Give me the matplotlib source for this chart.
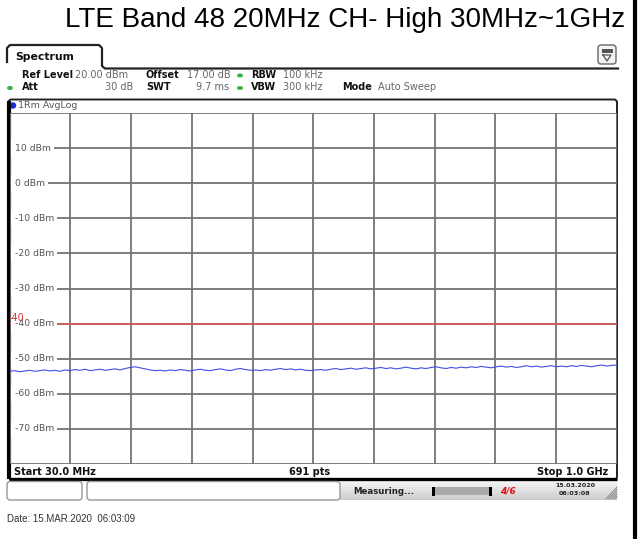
import numpy as np
import matplotlib
matplotlib.use("Agg")
import matplotlib.pyplot as plt
from matplotlib.patches import FancyBboxPatch, Rectangle, Circle, Ellipse
from matplotlib.transforms import blended_transform_factory

# ---------------- data ----------------
title = "LTE Band 48 20MHz CH- High 30MHz~1GHz"
f_start_mhz = 30.0
f_stop_mhz = 1000.0
y_top_dbm = 20
y_bottom_dbm = -80
y_label_levels = [10, 0, -10, -20, -30, -40, -50, -60, -70]
limit_dbm = -40
trace_dbm = [
    -53.6, -53.4, -53.7, -53.5, -53.3, -53.6, -53.4, -53.2, -53.5, -53.3,
    -53.6, -53.2, -53.4, -53.1, -53.3, -53.0, -53.4, -53.2, -53.0, -53.3,
    -53.1, -52.9, -53.2, -52.8, -52.5, -52.3, -52.6, -52.9, -53.2, -53.4,
    -53.3, -53.5, -53.2, -53.4, -53.1, -53.3, -53.5, -53.2, -53.0, -53.3,
    -53.4, -53.1, -52.9, -53.2, -53.4, -53.0, -52.8, -53.1, -53.3, -53.2,
    -53.4, -53.1, -53.3, -53.0, -52.8, -53.1, -52.9, -53.2, -53.0, -53.3,
    -53.4, -53.2, -53.1, -53.3, -53.0, -52.8, -53.1, -52.9, -52.7, -53.0,
    -52.8, -52.6, -52.9, -52.7, -52.5, -52.8, -52.6, -52.9, -52.7, -52.4,
    -52.7, -52.9, -52.6, -52.8, -52.5, -52.3, -52.6, -52.8, -52.5, -52.7,
    -52.4, -52.6, -52.3, -52.5, -52.2, -52.4, -52.6, -52.3, -52.1, -52.4,
    -52.2, -52.5, -52.3, -52.0, -52.3, -52.1, -52.4, -52.2, -52.0, -52.3,
    -52.1, -52.3, -52.0, -52.2, -51.9, -52.1, -52.3, -52.0, -51.8, -52.1,
    -51.9, -51.8,
]
freq_mhz = np.linspace(f_start_mhz, f_stop_mhz, len(trace_dbm))

hdr1 = [("Ref Level", True, 22, "left"), ("20.00 dBm", False, 75, "left"),
        ("Offset", True, 146, "left"), ("17.00 dB", False, 187, "left"),
        ("RBW", True, 251, "left"), ("100 kHz", False, 283, "left")]
hdr2 = [("Att", True, 22, "left"), ("30 dB", False, 133, "right"),
        ("SWT", True, 146, "left"), ("9.7 ms", False, 229, "right"),
        ("VBW", True, 251, "left"), ("300 kHz", False, 283, "left"),
        ("Mode", True, 342, "left"), ("Auto Sweep", False, 378, "left")]

W, H = 643, 539
fig = plt.figure(figsize=(W / 100, H / 100), dpi=100)
fig.patch.set_facecolor("white")

bg = fig.add_axes([0, 0, 1, 1])
bg.set_xlim(0, W)
bg.set_ylim(H, 0)
bg.axis("off")

# title
bg.text(345, 20, title, fontsize=20, family="Liberation Sans", ha="center", va="center", color="black")

# right border
bg.plot([634.5, 634.5], [0, H], color="black", lw=3, solid_capstyle="butt")

# spectrum tab
bg.plot([7, 7, 10, 99, 102, 102, 105, 618], [62, 48, 45, 45, 48, 66, 68.5, 68.5], color="#222222", lw=1.6)
bg.text(15, 57, "Spectrum", fontsize=7.8, fontweight="bold", va="center", ha="left", color="#111111")
# icon top right
bg.add_patch(FancyBboxPatch((598, 45), 18, 19, boxstyle="round,pad=0,rounding_size=3",
                            fc="#f4f4f4", ec="#666666", lw=1))
bg.add_patch(Rectangle((601.5, 48.5), 11, 4, fc="#555555", ec="none"))
bg.plot([603, 607, 611, 603], [55, 61, 55, 55], color="#555555", lw=0.9)

gray_txt = "#666666"
for txt, bold, x, ha in hdr1:
    bg.text(x, 74.7, txt, fontsize=7, fontweight="bold" if bold else "normal",
            color="#111111" if bold else gray_txt, ha=ha, va="center")
for txt, bold, x, ha in hdr2:
    bg.text(x, 87.3, txt, fontsize=7, fontweight="bold" if bold else "normal",
            color="#111111" if bold else gray_txt, ha=ha, va="center")
for (cx, cy) in [(240, 75.5), (240, 88), (10, 88)]:
    bg.add_patch(Ellipse((cx, cy), 6, 4, fc="#3cb043", ec="none"))

# plot frame
bg.add_patch(FancyBboxPatch((8.5, 99.5), 608.5, 380, boxstyle="round,pad=0,rounding_size=3",
                            fc="white", ec="#222222", lw=1.4))
bg.plot([9.2, 9.2], [101, 479], color="black", lw=3, solid_capstyle="butt")
bg.plot([9, 617], [479, 479], color="black", lw=2.4, solid_capstyle="butt")
bg.add_patch(Circle((13, 105.5), 3.2, fc="#1a2ed6", ec="none"))
bg.text(18, 106, "1Rm AvgLog", fontsize=6.8, color="#555555", va="center", ha="left")
bg.text(14, 472, "Start 30.0 MHz", fontsize=7, fontweight="bold", va="center", ha="left", color="#111111")
bg.text(310, 472, "691 pts", fontsize=7, fontweight="bold", va="center", ha="center", color="#111111")
bg.text(608, 472, "Stop 1.0 GHz", fontsize=7, fontweight="bold", va="center", ha="right", color="#111111")

# status bar
grad = np.linspace(0.96, 0.80, 20).reshape(-1, 1)
bg.imshow(np.repeat(grad, 2, axis=1), cmap="gray", vmin=0, vmax=1, extent=(340, 617, 500, 481),
          aspect="auto", zorder=1)
bg.add_patch(FancyBboxPatch((7, 481.5), 75, 18.5, boxstyle="round,pad=0,rounding_size=3",
                            fc="white", ec="#999999", lw=1, zorder=2))
bg.add_patch(FancyBboxPatch((87, 481.5), 253, 18.5, boxstyle="round,pad=0,rounding_size=3",
                            fc="white", ec="#999999", lw=1, zorder=2))
bg.text(353, 491, "Measuring...", fontsize=6.2, fontweight="bold", ha="left", va="center", color="#222222", zorder=3)
bg.add_patch(Rectangle((434, 487), 57, 8, fc="#aaaaaa", ec="none", zorder=3))
bg.add_patch(Rectangle((432, 486.5), 3, 9, fc="black", ec="none", zorder=3))
bg.add_patch(Rectangle((489, 486.5), 3, 9, fc="black", ec="none", zorder=3))
bg.text(508, 490.5, "4/6", fontsize=6.5, fontweight="bold", color="#dd1111", ha="center", va="center", zorder=3,
        style="italic")
bg.text(575, 485.5, "15.03.2020", fontsize=4.6, fontweight="bold", ha="center", va="center", color="#222222", zorder=3)
bg.text(575, 493.5, "06:03:08", fontsize=4.6, fontweight="bold", ha="center", va="center", color="#222222", zorder=3)
for k in range(5):
    bg.plot([606 + 2.4 * k, 617], [499, 487 + 2.4 * k], color="#888888", lw=0.7, zorder=3)

bg.text(7, 519, "Date: 15.MAR.2020  06:03:09", fontsize=7, family="Liberation Sans", ha="left", va="center",
        color="#333333")

# ---------------- data axes ----------------
x0, x1, yt, yb = 9.7, 616.7, 113, 464
ax = fig.add_axes([x0 / W, (H - yb) / H, (x1 - x0) / W, (yb - yt) / H])
ax.set_xlim(f_start_mhz, f_stop_mhz)
ax.set_ylim(y_bottom_dbm, y_top_dbm)
ax.set_xticks(np.linspace(f_start_mhz, f_stop_mhz, 11))
ax.set_yticks(np.arange(y_bottom_dbm, y_top_dbm + 1, 10))
ax.tick_params(left=False, bottom=False, labelleft=False, labelbottom=False)
ax.grid(True, color="#747474", lw=1.3)
ax.set_axisbelow(True)
for s in ax.spines.values():
    s.set_visible(False)
ax.patch.set_alpha(0)

ax.plot(freq_mhz, trace_dbm, color="#3f4fe0", lw=0.8, zorder=4)
ax.axhline(limit_dbm, color="#e05555", lw=1.1, zorder=3)

tr = blended_transform_factory(ax.transAxes, ax.transData)
for lv in y_label_levels:
    ax.text(0.008, lv, f"{lv} dBm", transform=tr, fontsize=6.7, color="#555555", ha="left", va="center",
            bbox=dict(fc="white", ec="none", pad=2.5), zorder=5)
ax.text(-0.002, limit_dbm + 1.6, "-40", transform=tr, fontsize=7, color="#e03333", ha="left", va="center", zorder=6)

fig.savefig("out.png", dpi=100)
